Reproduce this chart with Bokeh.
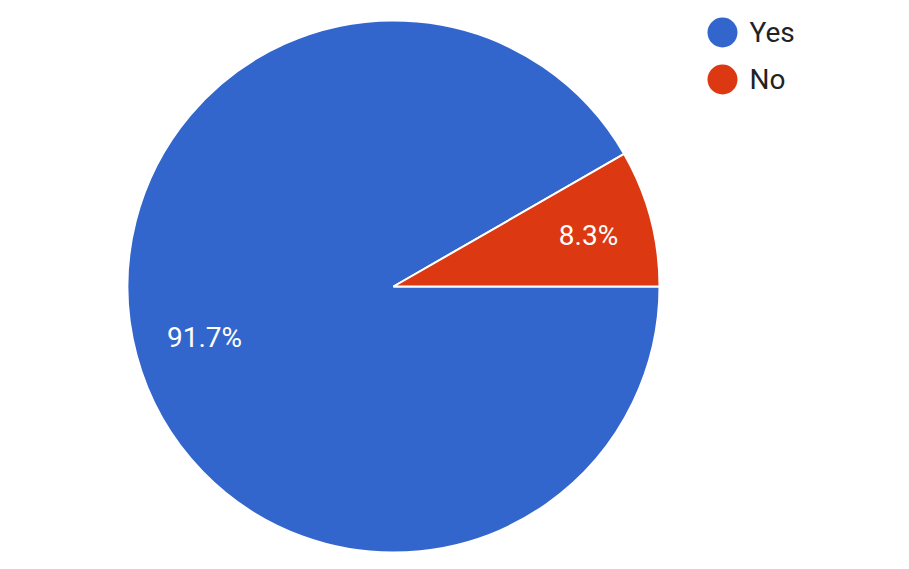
import numpy as np
from bokeh.plotting import figure
from bokeh.models import ColumnDataSource, Range1d
from bokeh.core.properties import value
from bokeh.embed import file_html
from bokeh.resources import INLINE

labels = ["Yes", "No"]
values = [91.7, 8.3]
colors = ["#3366CC", "#DC3912"]
pct_labels = ["91.7%", "8.3%"]

W, H = 893, 553
p = figure(width=W, height=H, output_backend="svg", toolbar_location=None,
           x_range=Range1d(0, W), y_range=Range1d(0, H), min_border=0)
p.axis.visible = False
p.grid.visible = False
p.outline_line_color = None
p.background_fill_color = "#ffffff"
p.border_fill_color = "#ffffff"

cx, cy, r = 393, 267, 266
frac = np.array(values) / sum(values)
# "No" spans from 0 counterclockwise; "Yes" fills the remainder
no_end = 2 * np.pi * frac[1]
starts = [no_end, 0.0]
ends = [2 * np.pi, no_end]

src = ColumnDataSource(dict(start=starts, end=ends, color=colors, label=labels))
p.wedge(x=cx, y=cy, radius=r, start_angle="start", end_angle="end",
        fill_color="color", line_color="white", line_width=2, source=src)

# percentage labels
lx = [204, 588]
ly = [216, 318]
p.text(x=lx, y=ly, text=pct_labels, text_color="white", text_font=value("Roboto"),
       text_font_size="28px", text_align="center", text_baseline="middle")

# legend
leg_y = [521, 474]
p.scatter(x=[722, 722], y=leg_y, size=30, fill_color=colors, line_color=None)
p.text(x=[749, 749], y=leg_y, text=labels, text_color="#222222",
       text_font=value("Roboto"), text_font_size="28px", text_align="left",
       text_baseline="middle")

open("out.html", "w").write(file_html(p, INLINE))
